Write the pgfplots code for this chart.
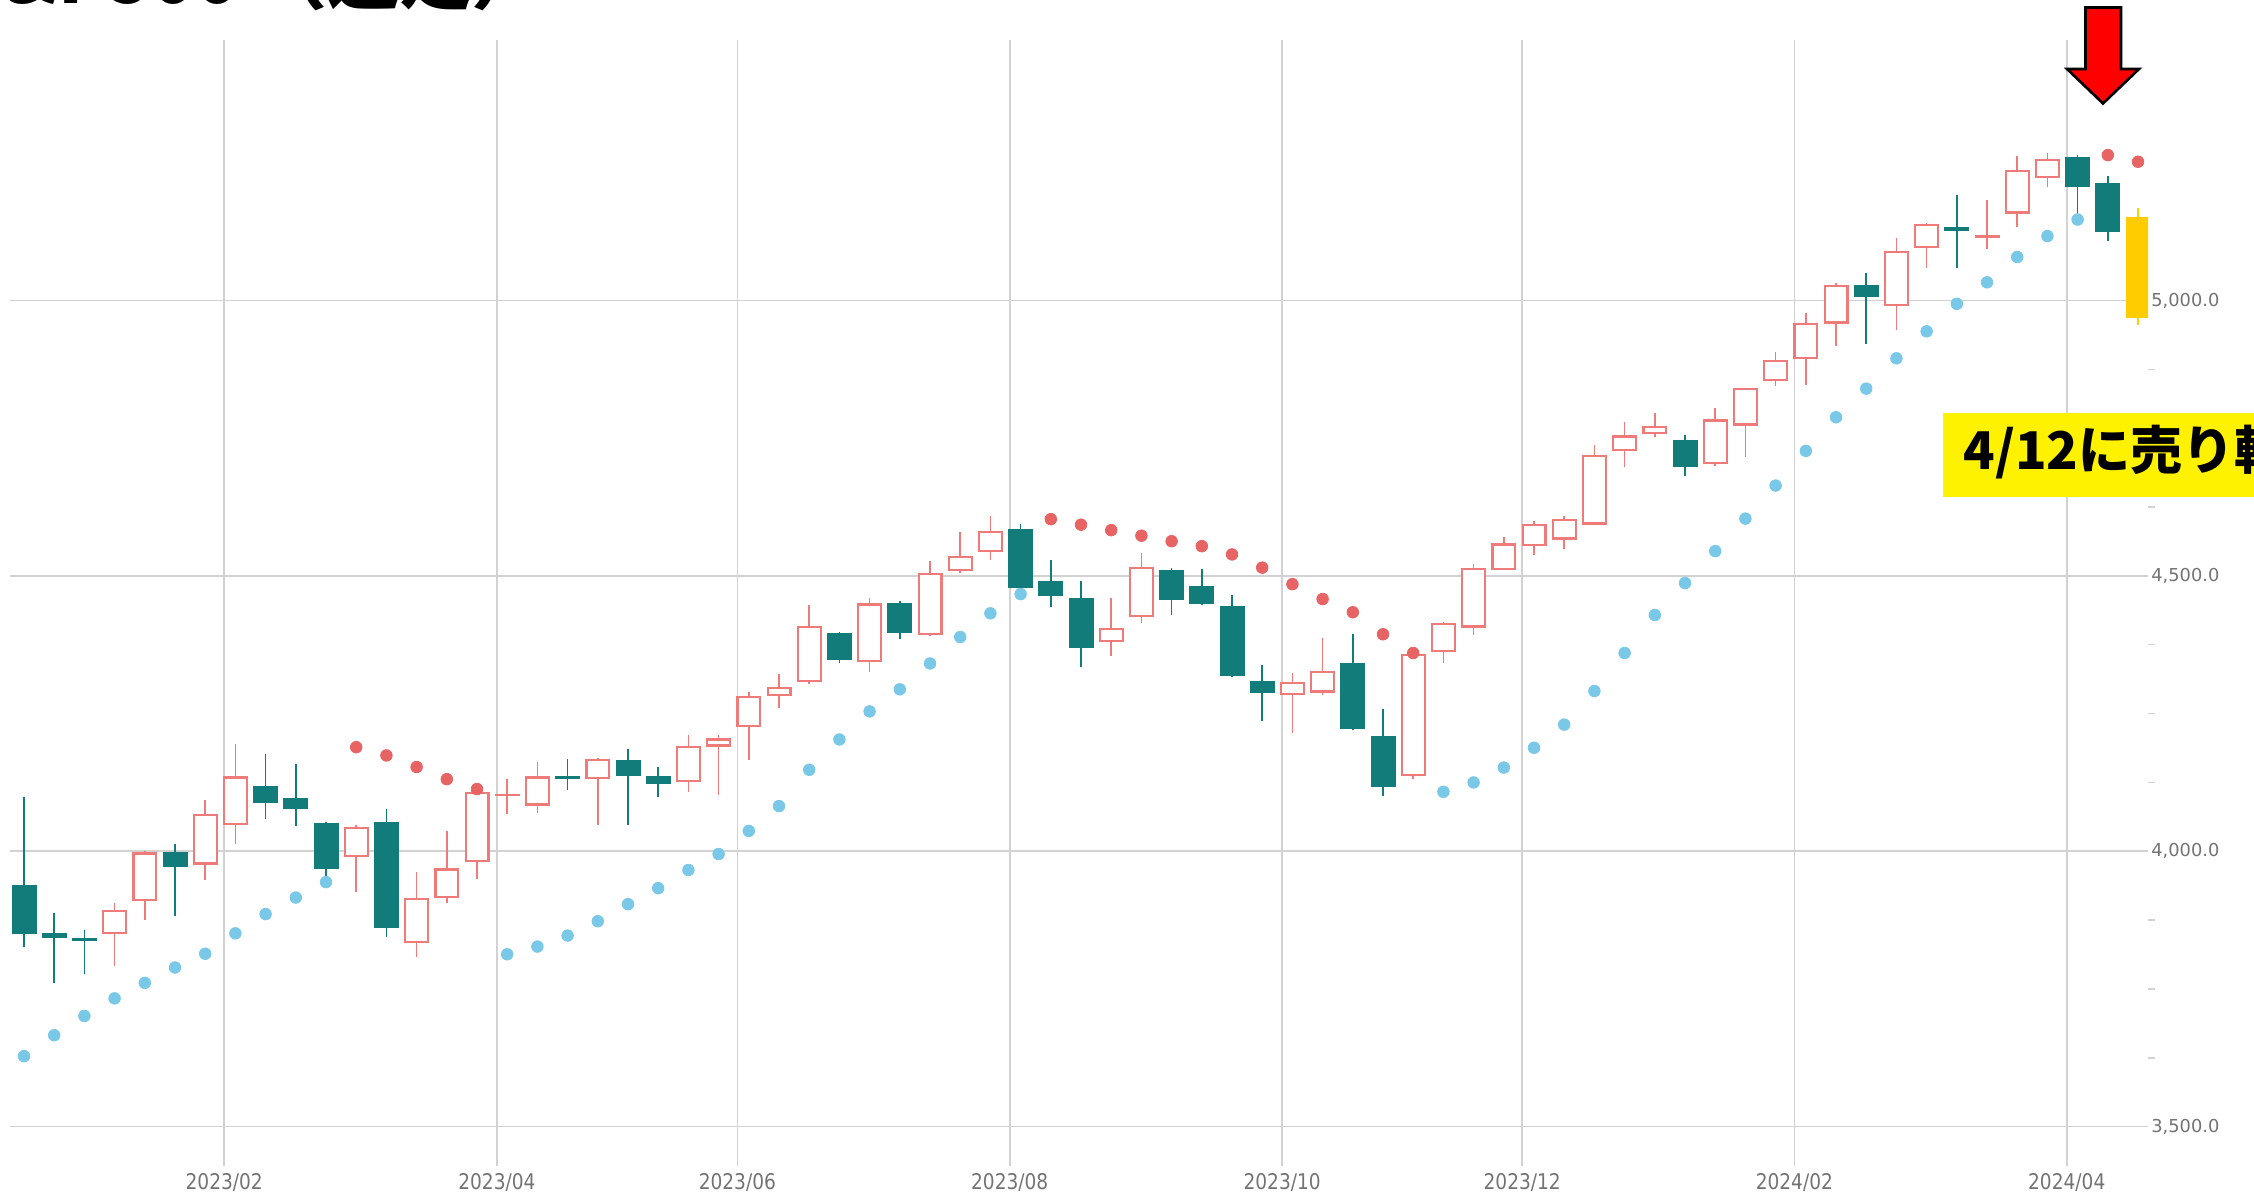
\documentclass[border=0pt]{standalone}
\usepackage{pgfplots}
\pgfplotsset{compat=1.18}
\usepackage{pgfplotstable}
\usepackage{fontspec}
\newfontfamily\dejavu{DejaVu Sans}
\newfontfamily\jp{Noto Sans CJK JP}
\definecolor{tealc}{RGB}{17,124,121}
\definecolor{redc}{RGB}{238,122,122}
\definecolor{psarred}{RGB}{232,100,100}
\definecolor{psarblue}{RGB}{122,200,232}
\definecolor{yellc}{RGB}{255,204,0}
\definecolor{gridc}{RGB}{210,210,210}
\definecolor{labc}{RGB}{115,115,115}

\pgfplotstableread{
x O H L C
0 3938 4099 3826 3849
1 3852 3888 3760 3842
2 3843 3857 3778 3838
5 3998 4013 3883 3971
8 4118 4176 4058 4088
9 4096 4158 4046 4077
10 4051 4053 3945 3968
12 4054 4076 3844 3860
18 4137 4168 4111 4131
20 4165 4186 4047 4136
21 4136 4153 4098 4122
27 4396 4399 4341 4347
29 4450 4455 4385 4397
33 4585 4594 4467 4478
34 4491 4529 4443 4464
35 4459 4490 4334 4369
38 4511 4514 4429 4456
39 4482 4513 4447 4449
40 4445 4466 4316 4319
41 4310 4338 4237 4287
44 4342 4394 4220 4222
45 4210 4258 4101 4116
55 4746 4755 4681 4697
61 5028 5050 4921 5007
64 5134 5191 5060 5126
68 5260 5265 5150 5206
69 5214 5226 5109 5124
}\tealT

\pgfplotstableread{
x O H L C
3 3850 3906 3791 3893
4 3909 4001 3875 3998
6 3976 4093 3947 4068
7 4048 4195 4013 4136
11 3990 4047 3926 4045
13 3833 3963 3808 3915
14 3915 4037 3907 3969
15 3981 4110 3949 4108
16 4101 4131 4068 4104
17 4083 4163 4070 4136
19 4131 4170 4048 4168
22 4125 4211 4108 4191
23 4190 4211 4102 4205
24 4225 4290 4165 4282
25 4282 4321 4261 4298
26 4307 4447 4304 4409
28 4344 4459 4326 4450
30 4393 4527 4390 4505
31 4508 4579 4505 4536
32 4543 4608 4529 4582
36 4380 4459 4355 4406
37 4425 4541 4414 4517
42 4284 4323 4215 4308
43 4288 4387 4284 4327
46 4137 4370 4131 4358
47 4362 4417 4341 4415
48 4406 4522 4392 4514
49 4511 4570 4510 4559
50 4554 4599 4538 4594
51 4566 4608 4548 4604
52 4593 4738 4592 4720
53 4727 4779 4698 4755
54 4758 4795 4752 4772
56 4703 4804 4700 4784
57 4773 4842 4715 4841
58 4854 4907 4844 4892
59 4894 4977 4846 4960
60 4958 5031 4918 5028
62 4990 5113 4947 5090
63 5095 5141 5060 5139
65 5114 5182 5093 5119
66 5158 5263 5134 5237
67 5222 5268 5206 5257
}\redT

\pgfplotstableread{
x O H L C
70 5151 5168 4955 4968
}\yelT

\pgfplotstableread{
x v
0 3628
1 3666
2 3701
3 3733
4 3761
5 3789
6 3814
7 3851
8 3886
9 3916
10 3944
16 3813
17 3827
18 3847
19 3873
20 3904
21 3933
22 3966
23 3995
24 4037
25 4082
26 4148
27 4203
28 4254
29 4294
30 4341
31 4389
32 4432
33 4467
47 4108
48 4125
49 4152
50 4188
51 4230
52 4291
53 4360
54 4429
55 4487
56 4545
57 4604
58 4664
59 4727
60 4788
61 4840
62 4895
63 4944
64 4994
65 5033
66 5079
67 5117
68 5147
}\psarB

\pgfplotstableread{
x v
11 4189
12 4174
13 4153
14 4131
15 4113
34 4603
35 4593
36 4583
37 4573
38 4563
39 4554
40 4539
41 4515
42 4485
43 4458
44 4434
45 4394
46 4360
69 5264
70 5252
}\psarR

\begin{document}
\begin{tikzpicture}
\begin{axis}[
  at={(0,0)}, anchor=south west,
  scale only axis, width=1069pt, height=563pt,
  xmin=-0.4636, xmax=70.33, ymin=3428.6, ymax=5473,
  axis line style={draw=none},
  xtick={6.63,15.66,23.62,32.64,41.66,49.61,58.62,67.64},
  xticklabels={2023/02,2023/04,2023/06,2023/08,2023/10,2023/12,2024/02,2024/04},
  ytick={3500,4000,4500,5000},
  yticklabels={{3,500.0},{4,000.0},{4,500.0},{5,000.0}},
  minor ytick={3625,3750,3875,4125,4250,4375,4625,4750,4875},
  xmajorgrids, ymajorgrids,
  grid style={draw=gridc, line width=0.8pt},
  major tick length=0pt, minor tick length=3.5pt,
  tick align=outside,
  xtick pos=bottom, ytick pos=right,
  minor tick style={draw=gridc, line width=0.75pt},
  yticklabel style={font=\dejavu\fontsize{8.9}{10}\selectfont, text=labc, anchor=west, inner sep=0pt, xshift=1.5pt},
  xticklabel style={font=\dejavu\fontsize{10.8}{12}\selectfont, text=labc, anchor=north, inner sep=0pt, yshift=-3.5pt, xscale=0.86},
]
% wicks
\addplot[draw=none, forget plot, error bars/.cd, y dir=both, y explicit, error mark=none,
  error bar style={draw=tealc, line width=0.85pt}]
  table[x=x, y expr=(\thisrow{H}+\thisrow{L})/2, y error expr=(\thisrow{H}-\thisrow{L})/2] {\tealT};
\addplot[draw=none, forget plot, error bars/.cd, y dir=both, y explicit, error mark=none,
  error bar style={draw=redc, line width=0.85pt}]
  table[x=x, y expr=(\thisrow{H}+\thisrow{L})/2, y error expr=(\thisrow{H}-\thisrow{L})/2] {\redT};
\addplot[draw=none, forget plot, error bars/.cd, y dir=both, y explicit, error mark=none,
  error bar style={draw=yellc, line width=0.85pt}]
  table[x=x, y expr=(\thisrow{H}+\thisrow{L})/2, y error expr=(\thisrow{H}-\thisrow{L})/2] {\yelT};
% bodies
\addplot[draw=none, forget plot, error bars/.cd, y dir=both, y explicit, error mark=none,
  error bar style={draw=tealc, line width=12.5pt}]
  table[x=x, y expr=(\thisrow{O}+\thisrow{C})/2, y error expr={max(abs(\thisrow{O}-\thisrow{C})/2,1.5)}] {\tealT};
\addplot[draw=none, forget plot, error bars/.cd, y dir=both, y explicit, error mark=none,
  error bar style={draw=redc, line width=12.5pt}]
  table[x=x, y expr=(\thisrow{O}+\thisrow{C})/2, y error expr={max(abs(\thisrow{O}-\thisrow{C})/2,1.5)}] {\redT};
\addplot[draw=none, forget plot, error bars/.cd, y dir=both, y explicit, error mark=none,
  error bar style={draw=white, line width=10.3pt}]
  table[x=x, y expr=(\thisrow{O}+\thisrow{C})/2, y error expr={max(abs(\thisrow{O}-\thisrow{C})/2-4,0)}] {\redT};
\addplot[draw=none, forget plot, error bars/.cd, y dir=both, y explicit, error mark=none,
  error bar style={draw=yellc, line width=12.5pt}]
  table[x=x, y expr=(\thisrow{O}+\thisrow{C})/2, y error expr={max(abs(\thisrow{O}-\thisrow{C})/2,1.5)}] {\yelT};
% parabolic SAR
\addplot[only marks, mark=*, mark size=2.9pt, draw=psarblue, fill=psarblue] table[x=x, y=v] {\psarB};
\addplot[only marks, mark=*, mark size=2.9pt, draw=psarred, fill=psarred] table[x=x, y=v] {\psarR};
\end{axis}

\begin{scope}[x=0.5pt, y=-0.5pt, shift={(-5pt,583pt)}]
  \clip (0,0) rectangle (2254,1194);
  \node[anchor=base west, inner sep=0pt, font=\jp\bfseries\fontsize{36}{36}\selectfont] at (-44,4) {S\&P500 （週足）};
  \fill[yellow] (1943,413) rectangle (2300,497);
  \node[anchor=base west, inner sep=0pt, font=\jp\bfseries\fontsize{26}{26}\selectfont] at (1963,470) {4/12に売り転換};
  \filldraw[fill=red, draw=black, line width=1.3pt, line join=miter]
    (2085.5,7.5) -- (2121,7.5) -- (2121,69) -- (2139,69) -- (2103,103.5) -- (2067,69) -- (2085.5,69) -- cycle;
\end{scope}
\pgfresetboundingbox
\path[use as bounding box] (-5pt,-14pt) rectangle (1122pt,583pt);
\end{tikzpicture}
\end{document}
